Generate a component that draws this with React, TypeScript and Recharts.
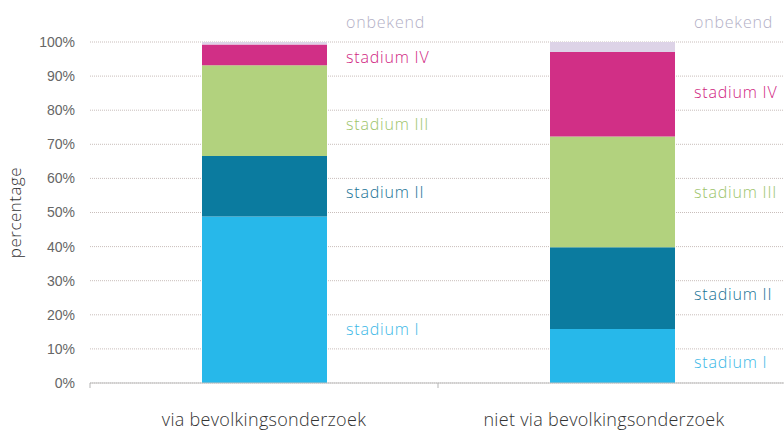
import React from 'react';
import { BarChart, Bar, XAxis, YAxis, CartesianGrid, LabelList } from 'recharts';

const categories: string[] = ['via bevolkingsonderzoek', 'niet via bevolkingsonderzoek'];
const stadiumI: number[] = [48.8, 15.8];
const stadiumII: number[] = [17.8, 24.0];
const stadiumIII: number[] = [26.6, 32.5];
const stadiumIV: number[] = [6.1, 24.8];
const onbekend: number[] = [0.7, 2.9];
const yTicks: number[] = [0, 10, 20, 30, 40, 50, 60, 70, 80, 90, 100];

const series = [
  { key: 'stadium I', values: stadiumI, fill: '#27b8ea', text: '#3ab7e6' },
  { key: 'stadium II', values: stadiumII, fill: '#0b7b9f', text: '#1a7395' },
  { key: 'stadium III', values: stadiumIII, fill: '#b2d27e', text: '#9cc46a' },
  { key: 'stadium IV', values: stadiumIV, fill: '#d12f86', text: '#d0257f' },
  { key: 'onbekend', values: onbekend, fill: '#ddd3e7', text: '#b3b0c6' },
];

const data = categories.map((name, i) => {
  const row: { [key: string]: string | number } = { name };
  series.forEach(s => {
    row[s.key] = s.values[i];
  });
  return row;
});

// small nudges so the side labels sit where the original put them
const labelNudge: { [key: string]: number[] } = {
  'stadium I': [24, 0],
  'stadium III': [8, -5],
  'stadium IV': [-3, -8],
};

const FONT = '"Open Sans", Lato, sans-serif';

const makeLabel = (key: string, color: string) => (props: any) => {
  const vb = props.viewBox || props;
  const x = Number(vb.x) + Number(vb.width) + 19;
  const top = Number(vb.y);
  const h = Number(vb.height);
  const nudge = labelNudge[key] ? labelNudge[key][props.index] || 0 : 0;
  const y = key === 'onbekend' ? top - 20 : top + h / 2 + 6 + nudge;
  return (
    <text x={x} y={y} dy="0.35em" fill={color} fontSize={16} fontWeight={350} letterSpacing={0.8} fontFamily={FONT}>
      {key}
    </text>
  );
};

const CategoryTick = (props: any) => {
  const { x, y, payload } = props;
  const off = payload && payload.offset ? payload.offset : 174;
  return (
    <g>
      <line x1={x - off} y1={y - 8} x2={x - off} y2={y - 3} stroke="#b5b5b5" />
      <text x={x - 8 * (payload.index || 0)} y={y + 35} textAnchor="middle" fill="#333" fontSize={18} fontWeight={350} letterSpacing={0.3} fontFamily={FONT}>
        {payload.value}
      </text>
    </g>
  );
};

const App = () => {
  return (
    <div style={{ position: 'absolute', left: 0, top: 0, width: 784, height: 430, overflow: 'hidden', background: '#fff' }}>
      <BarChart width={790} height={430} data={data} margin={{ top: 42, right: 4, left: 0, bottom: 0 }}>
        <CartesianGrid vertical={false} stroke="#c9bebb" strokeDasharray="1 1" />
        <XAxis
          dataKey="name"
          height={47}
          axisLine={{ stroke: '#bdbdbd' }}
          tickLine={false}
          tick={<CategoryTick />}
          interval={0}
        />
        <YAxis
          type="number"
          domain={[0, 100]}
          ticks={yTicks}
          width={90}
          axisLine={false}
          tickLine={false}
          tickSize={0}
          tickMargin={15}
          tickFormatter={(v: number) => `${v}%`}
          tick={{ fill: '#666', fontSize: 14, fontFamily: '"Liberation Sans", Arial, sans-serif' }}
          label={{
            content: (p: any) => {
              const vb = p.viewBox || { x: 0, y: 42, height: 341 };
              const cx = vb.x + 15;
              const cy = vb.y + vb.height / 2;
              return (
                <text x={cx} y={cy} transform={`rotate(-90 ${cx} ${cy})`} textAnchor="middle" dy="0.35em" fill="#333" fontSize={17} fontWeight={350} letterSpacing={0.5} fontFamily={FONT}>
                  percentage
                </text>
              );
            },
          }}
        />
        {series.map(s => (
          <Bar key={s.key} dataKey={s.key} stackId="a" fill={s.fill} barSize={125} isAnimationActive={false}>
            <LabelList dataKey={s.key} content={makeLabel(s.key, s.text)} />
          </Bar>
        ))}
      </BarChart>
    </div>
  );
};

export default App;
